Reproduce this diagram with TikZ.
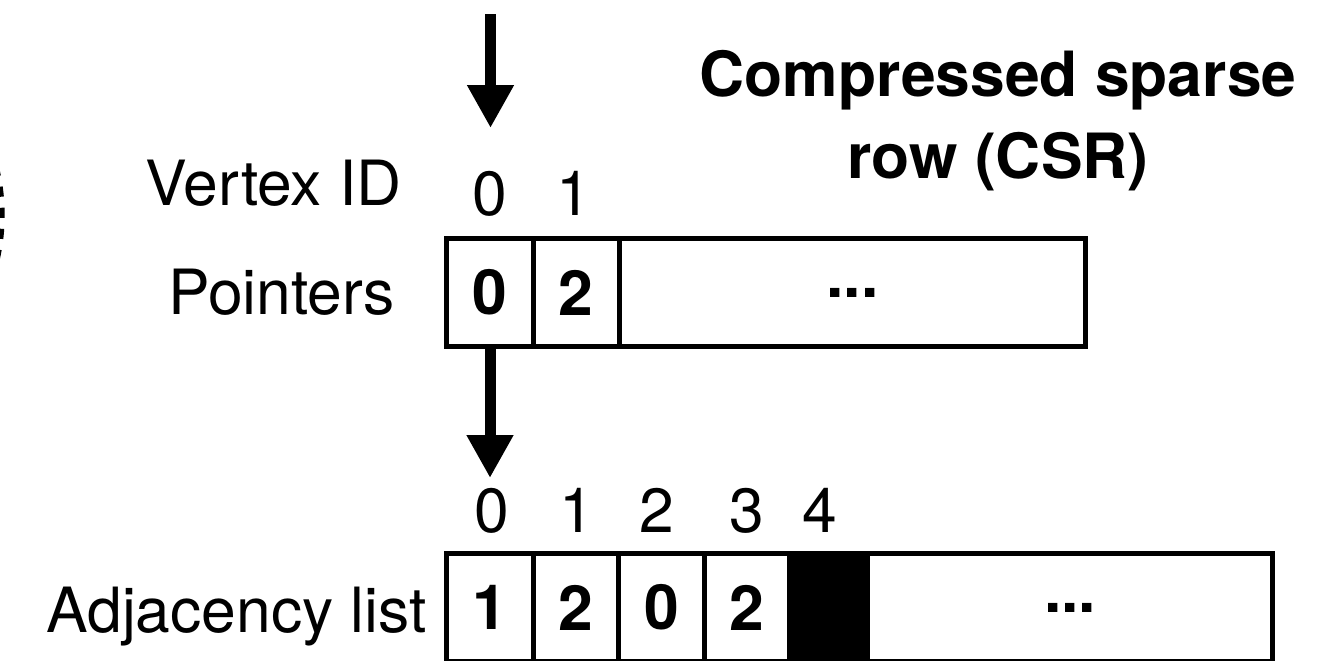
\documentclass[tikz,border=0pt]{standalone}
\usepackage{fontspec}
\setmainfont{TeX Gyre Heros}
\usetikzlibrary{arrows.meta}

\begin{document}
\begin{tikzpicture}[
    x=0.02cm, y=-0.02cm,
    lbl/.style={font=\fontsize{35.5}{42}\selectfont, inner sep=0},
    idx/.style={font=\fontsize{35.5}{42}\selectfont, inner sep=0, anchor=base},
    cell/.style={draw, line width=0.1cm, minimum height=2.16cm, inner sep=0, font=\fontsize{35.5}{42}\selectfont\bfseries},
    ptr/.style={-{Triangle[length=0.86cm, width=0.88cm]}, line width=0.22cm},
    title/.style={font=\fontsize{35.5}{46.7}\selectfont\bfseries, align=center, inner sep=0}
]
\useasboundingbox (0,0) rectangle (1334,660);

% Title
\node[title, anchor=north] (title) at (998,50) {Compressed sparse\\row (CSR)};

% Edge of the graph drawing, cut off on the left
\draw[line width=0.14cm, dash pattern=on 0.2cm off 0.22cm] (-200,215) ++(-20:201.2) arc[start angle=-20, end angle=20, radius=201.2];

% Row labels
\node[lbl, anchor=base east] (vlabel) at (402,205) {Vertex ID};
\node[lbl, anchor=base east] (plabel) at (395,314) {Pointers};
\node[lbl, anchor=base east] (alabel) at (427,632) {Adjacency list};

% Vertex IDs
\node[idx] (v0) at (490,215) {0};
\node[idx] (v1) at (574,215) {1};

% Pointers array
\node[cell, minimum width=1.74cm] (p0) at (490,292.5) {0};
\node[cell, minimum width=1.71cm] (p1) at (576.25,292.5) {2};
\node[cell, minimum width=9.34cm] (p2) at (852.5,292.5) {...};

% Edge indices
\node[idx] (e0) at (492,532) {0};
\node[idx] (e1) at (577,532) {1};
\node[idx] (e2) at (657,532) {2};
\node[idx] (e3) at (747,532) {3};
\node[idx] (e4) at (820,532) {4};

% Adjacency list
\node[cell, minimum width=1.74cm] (a0) at (490,607.5) {1};
\node[cell, minimum width=1.70cm] (a1) at (576,607.5) {2};
\node[cell, minimum width=1.72cm] (a2) at (661.5,607.5) {0};
\node[cell, minimum width=1.69cm] (a3) at (746.75,607.5) {2};
\node[cell, minimum width=1.56cm, fill=black] (a4) at (828,607.5) {};
\node[cell, minimum width=8.12cm] (a5) at (1070,607.5) {...};

% Arrows
\coordinate (start) at (490.5,14);
\coordinate (hit) at (490.5,128);
\coordinate (land) at (490,478);
\draw[ptr] (start) -- (hit);
\draw[ptr] (p0.south) -- (land);

\end{tikzpicture}
\end{document}
